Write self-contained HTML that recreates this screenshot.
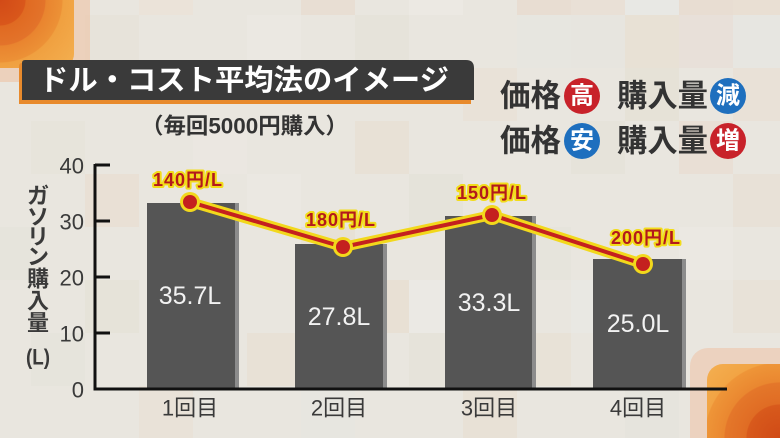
<!DOCTYPE html>
<html><head><meta charset="utf-8">
<style>
html,body{margin:0;padding:0;width:780px;height:438px;overflow:hidden;background:#e9e6df;}
svg{display:block;font-family:"Liberation Sans","Noto Sans CJK JP",sans-serif;}
</style></head>
<body>
<svg width="780" height="438" viewBox="0 0 780 438" xmlns="http://www.w3.org/2000/svg">
<defs>
<radialGradient id="gTL" cx="0" cy="0" r="100" gradientUnits="userSpaceOnUse">
<stop offset="0" stop-color="#d24a17"/>
<stop offset="0.25" stop-color="#d9571b"/>
<stop offset="0.26" stop-color="#e06a22"/>
<stop offset="0.45" stop-color="#e3732a"/>
<stop offset="0.46" stop-color="#e9842f"/>
<stop offset="0.62" stop-color="#ec9136"/>
<stop offset="0.63" stop-color="#f0a040"/>
<stop offset="1" stop-color="#f4b050"/>
</radialGradient>
<radialGradient id="gBR" cx="780" cy="438" r="110" gradientUnits="userSpaceOnUse">
<stop offset="0" stop-color="#d04a16"/>
<stop offset="0.3" stop-color="#d85a1c"/>
<stop offset="0.31" stop-color="#e06c24"/>
<stop offset="0.5" stop-color="#e4772a"/>
<stop offset="0.51" stop-color="#ea8730"/>
<stop offset="0.68" stop-color="#ee9538"/>
<stop offset="0.69" stop-color="#f2a444"/>
<stop offset="1" stop-color="#f4b254"/>
</radialGradient>
</defs>

<!-- background mosaic -->
<rect x="0" y="0" width="780" height="438" fill="#e9e6df"/>
<g>
<rect x="85" y="15" width="54" height="53" fill="#e7e3da"/>
<rect x="139" y="-38" width="54" height="53" fill="#ebe3d9"/>
<rect x="247" y="15" width="54" height="53" fill="#ebe8e2"/>
<rect x="301" y="-38" width="54" height="53" fill="#e8ded3"/>
<rect x="355" y="15" width="54" height="53" fill="#e6e3da"/>
<rect x="409" y="-38" width="54" height="53" fill="#ece9e3"/>
<rect x="517" y="-38" width="54" height="53" fill="#e8ddd2"/>
<rect x="571" y="-38" width="54" height="53" fill="#e9e0d6"/>
<rect x="625" y="-38" width="54" height="53" fill="#e8e8e4"/>
<rect x="679" y="-38" width="54" height="53" fill="#e8ddd2"/>
<rect x="733" y="-38" width="54" height="53" fill="#e9dfd3"/>
<rect x="517" y="15" width="54" height="53" fill="#e7e6e0"/>
<rect x="571" y="15" width="54" height="53" fill="#e7e5df"/>
<rect x="625" y="15" width="54" height="53" fill="#e8e1d5"/>
<rect x="679" y="15" width="54" height="53" fill="#e8e0d9"/>
<rect x="733" y="15" width="54" height="53" fill="#e7e6e1"/>
<rect x="463" y="68" width="54" height="53" fill="#e9e2d8"/>
<rect x="625" y="68" width="54" height="53" fill="#e6e2d7"/>
<rect x="733" y="68" width="54" height="53" fill="#e9e1d7"/>
<rect x="31" y="121" width="54" height="53" fill="#e7e4db"/>
<rect x="193" y="121" width="54" height="53" fill="#ebe7e1"/>
<rect x="355" y="121" width="54" height="53" fill="#e8e1d6"/>
<rect x="571" y="121" width="54" height="53" fill="#e6e3da"/>
<rect x="679" y="121" width="54" height="53" fill="#e9dfd5"/>
<rect x="85" y="174" width="54" height="53" fill="#e9e0d5"/>
<rect x="247" y="174" width="54" height="53" fill="#ebe8e2"/>
<rect x="409" y="174" width="54" height="53" fill="#e5e3da"/>
<rect x="733" y="174" width="54" height="53" fill="#e8e1d7"/>
<rect x="0" y="227" width="31" height="53" fill="#e6e4dc"/>
<rect x="301" y="227" width="54" height="53" fill="#e7e1d6"/>
<rect x="517" y="227" width="54" height="53" fill="#e6e4dc"/>
<rect x="679" y="227" width="54" height="53" fill="#ebe8e2"/>
<rect x="85" y="280" width="54" height="53" fill="#e6e3d9"/>
<rect x="409" y="280" width="54" height="53" fill="#ebe9e4"/>
<rect x="355" y="280" width="54" height="53" fill="#e8e0d4"/>
<rect x="571" y="280" width="54" height="53" fill="#e9e8e3"/>
<rect x="733" y="280" width="54" height="53" fill="#e8e2d8"/>
<rect x="31" y="333" width="54" height="53" fill="#e6e4dc"/>
<rect x="247" y="333" width="54" height="53" fill="#e8e1d6"/>
<rect x="409" y="333" width="54" height="53" fill="#e6e3da"/>
<rect x="517" y="333" width="54" height="53" fill="#e8e2d7"/>
<rect x="139" y="386" width="54" height="53" fill="#e9e2d8"/>
<rect x="301" y="386" width="54" height="53" fill="#e7e6e0"/>
<rect x="463" y="386" width="54" height="53" fill="#e8e1d6"/>
<rect x="625" y="386" width="54" height="53" fill="#e6e4dd"/>
</g>

<!-- top-left orange corner -->
<rect x="-20" y="-20" width="110" height="102" rx="16" fill="#ecc7ad" opacity="0.7"/>
<rect x="-20" y="-20" width="94" height="88" rx="14" fill="url(#gTL)"/>

<!-- bottom-right orange corner -->
<rect x="690" y="348" width="110" height="110" rx="18" fill="#ecc9b0" opacity="0.7"/>
<rect x="707" y="364" width="90" height="90" rx="16" fill="url(#gBR)"/>

<!-- title -->
<path d="M19 66 Q19 63 22 63 L463 63 Q471 63 471 71 L471 104 L19 104 Z" fill="#e88a2c"/>
<path d="M22 63 Q22 60 25 60 L466 60 Q474 60 474 68 L474 100 L22 100 Z" fill="#3a3a3a"/>
<text x="39" y="81" dominant-baseline="central" font-size="29" font-weight="bold" fill="#ffffff" textLength="410" lengthAdjust="spacingAndGlyphs">ドル・コスト平均法のイメージ</text>

<!-- subtitle -->
<text x="141" y="126" dominant-baseline="central" font-size="22" font-weight="bold" fill="#333333" textLength="207" lengthAdjust="spacingAndGlyphs">（毎回5000円購入）</text>

<!-- right legend -->
<g font-weight="bold" fill="#333333" font-size="31">
<text x="500" y="96" dominant-baseline="central" textLength="61" lengthAdjust="spacingAndGlyphs">価格</text>
<text x="617" y="96" dominant-baseline="central" textLength="91" lengthAdjust="spacingAndGlyphs">購入量</text>
<text x="500" y="141" dominant-baseline="central" textLength="61" lengthAdjust="spacingAndGlyphs">価格</text>
<text x="617" y="141" dominant-baseline="central" textLength="91" lengthAdjust="spacingAndGlyphs">購入量</text>
</g>
<circle cx="582" cy="96" r="18" fill="#c8222a"/>
<circle cx="728" cy="96" r="18" fill="#1e6fbe"/>
<circle cx="582" cy="141" r="18" fill="#1e6fbe"/>
<circle cx="728" cy="141" r="18" fill="#c8222a"/>
<g font-weight="bold" fill="#ffffff" font-size="24" text-anchor="middle">
<text x="582" y="96" dominant-baseline="central">高</text>
<text x="728" y="96" dominant-baseline="central">減</text>
<text x="582" y="141" dominant-baseline="central">安</text>
<text x="728" y="141" dominant-baseline="central">増</text>
</g>

<!-- y axis title -->
<g font-weight="bold" fill="#3a3a3a" font-size="22" text-anchor="middle">
<text x="38" y="196" dominant-baseline="central">ガ</text>
<text x="38" y="217" dominant-baseline="central">ソ</text>
<text x="38" y="237" dominant-baseline="central">リ</text>
<text x="38" y="257" dominant-baseline="central">ン</text>
<text x="38" y="279" dominant-baseline="central">購</text>
<text x="38" y="301" dominant-baseline="central">入</text>
<text x="38" y="323" dominant-baseline="central">量</text>
<text x="38" y="357" dominant-baseline="central" textLength="24" lengthAdjust="spacingAndGlyphs">(L)</text>
</g>

<!-- tick labels -->
<g fill="#3a3a3a" font-size="22" text-anchor="end">
<text x="84" y="166" dominant-baseline="central">40</text>
<text x="84" y="222" dominant-baseline="central">30</text>
<text x="84" y="278" dominant-baseline="central">20</text>
<text x="84" y="334" dominant-baseline="central">10</text>
<text x="84" y="390" dominant-baseline="central">0</text>
</g>

<!-- bars -->
<rect x="147" y="203" width="88" height="186" fill="#555555"/>
<rect x="235" y="203" width="4" height="186" fill="#8c8c8c"/>
<rect x="295" y="244" width="88" height="145" fill="#555555"/>
<rect x="383" y="244" width="4" height="145" fill="#8c8c8c"/>
<rect x="445" y="216" width="87" height="173" fill="#555555"/>
<rect x="532" y="216" width="4" height="173" fill="#8c8c8c"/>
<rect x="593" y="259" width="89" height="130" fill="#555555"/>
<rect x="682" y="259" width="4" height="130" fill="#8c8c8c"/>

<!-- bar labels -->
<g fill="#f2f2f2" font-size="25" text-anchor="middle">
<text x="190" y="296" dominant-baseline="central">35.7L</text>
<text x="339" y="317" dominant-baseline="central">27.8L</text>
<text x="489" y="303" dominant-baseline="central">33.3L</text>
<text x="638" y="324" dominant-baseline="central">25.0L</text>
</g>

<!-- axes -->
<line x1="95" y1="164" x2="95" y2="390.5" stroke="#111" stroke-width="3"/>
<line x1="93.5" y1="389" x2="727" y2="389" stroke="#111" stroke-width="3"/>
<g stroke="#111" stroke-width="3">
<line x1="95" y1="165" x2="110" y2="165"/>
<line x1="95" y1="221" x2="110" y2="221"/>
<line x1="95" y1="277" x2="110" y2="277"/>
<line x1="95" y1="333" x2="110" y2="333"/>
</g>

<!-- x labels -->
<g fill="#3a3a3a" font-size="22" text-anchor="middle">
<text x="190" y="408" dominant-baseline="central">1回目</text>
<text x="339" y="408" dominant-baseline="central">2回目</text>
<text x="489" y="408" dominant-baseline="central">3回目</text>
<text x="638" y="408" dominant-baseline="central">4回目</text>
</g>

<!-- line series -->
<polyline points="190,202 343,247 492,215 643,264" fill="none" stroke="#f2d81c" stroke-width="10" stroke-linejoin="round" stroke-linecap="round"/>
<polyline points="190,202 343,247 492,215 643,264" fill="none" stroke="#c4201f" stroke-width="4" stroke-linejoin="round"/>
<g fill="#f2d81c">
<circle cx="190" cy="202" r="10"/>
<circle cx="343" cy="247" r="10"/>
<circle cx="492" cy="215" r="10"/>
<circle cx="643" cy="264" r="10"/>
</g>
<g fill="#c4201f">
<circle cx="190" cy="202" r="7"/>
<circle cx="343" cy="247" r="7"/>
<circle cx="492" cy="215" r="7"/>
<circle cx="643" cy="264" r="7"/>
</g>

<!-- price labels -->
<g font-size="18" font-weight="bold" text-anchor="middle" fill="#b3191c" stroke="#f2dc1a" stroke-width="4" stroke-linejoin="round" paint-order="stroke" letter-spacing="1">
<text x="188" y="180" dominant-baseline="central">140円/L</text>
<text x="341" y="220" dominant-baseline="central">180円/L</text>
<text x="492" y="193" dominant-baseline="central">150円/L</text>
<text x="646" y="238" dominant-baseline="central">200円/L</text>
</g>
</svg>
</body></html>
